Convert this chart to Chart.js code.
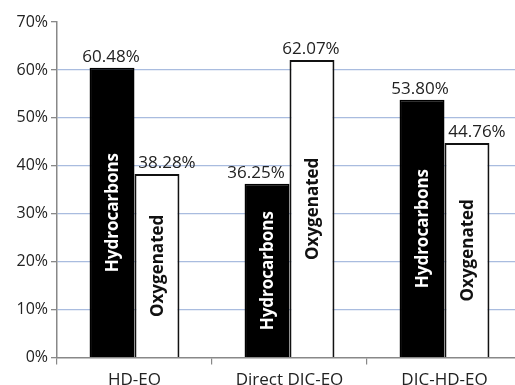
<!DOCTYPE html>
<html>
<head>
<meta charset="utf-8">
<script src="https://cdn.jsdelivr.net/npm/chart.js@4/dist/chart.umd.min.js"></script>
<style>
  html, body { margin: 0; padding: 0; background: #fff; overflow: hidden; }
  #wrap { width: 523px; height: 395px; }
</style>
</head>
<body>
<div id="wrap"><canvas id="c" width="523" height="395"></canvas></div>
<script>
// Essential oil composition by extraction method
const categories = ['HD-EO', 'Direct DIC-EO', 'DIC-HD-EO'];
const hydrocarbons = [60.48, 36.25, 53.80];
const oxygenated = [38.28, 62.07, 44.76];
const yTickValues = [0, 10, 20, 30, 40, 50, 60, 70];

// horizontal nudges for the value labels so neighbours don't collide
const labelShiftHydro = [-1, -11, -2];
const labelShiftOxy = [10, -1, 10];

const FONT = '"Open Sans", "DejaVu Sans", sans-serif';

const barLabels = {
  id: 'barLabels',
  afterDatasetsDraw(chart) {
    const ctx = chart.ctx;
    chart.data.datasets.forEach((ds, di) => {
      const meta = chart.getDatasetMeta(di);
      const shifts = di === 0 ? labelShiftHydro : labelShiftOxy;
      meta.data.forEach((bar, i) => {
        const v = ds.data[i];
        const base = chart.scales.y.getPixelForValue(0);
        // value above the bar
        ctx.save();
        ctx.font = '17px ' + FONT;
        ctx.fillStyle = '#222';
        ctx.textAlign = 'center';
        ctx.textBaseline = 'alphabetic';
        ctx.fillText(v.toFixed(2) + '%', bar.x + shifts[i], bar.y - 6);
        ctx.restore();
        // series name written up the bar
        ctx.save();
        ctx.translate(bar.x, (bar.y + base) / 2);
        ctx.rotate(-Math.PI / 2);
        ctx.font = 'bold 17px ' + FONT;
        ctx.fillStyle = di === 0 ? '#fff' : '#111';
        ctx.textAlign = 'center';
        ctx.textBaseline = 'middle';
        ctx.fillText(ds.label, 0, 1);
        ctx.restore();
      });
    });
  }
};

new Chart(document.getElementById('c'), {
  type: 'bar',
  data: {
    labels: categories,
    datasets: [
      {
        label: 'Hydrocarbons',
        data: hydrocarbons,
        backgroundColor: '#000',
        borderColor: '#000',
        borderWidth: 1.5,
        categoryPercentage: 0.58,
        barPercentage: 1.0
      },
      {
        label: 'Oxygenated',
        data: oxygenated,
        backgroundColor: '#fff',
        borderColor: '#111',
        borderWidth: 2,
        categoryPercentage: 0.58,
        barPercentage: 1.0
      }
    ]
  },
  options: {
    responsive: false,
    animation: false,
    devicePixelRatio: 1,
    layout: { padding: { top: 22, left: 0, right: 1, bottom: 0 } },
    plugins: { legend: { display: false }, tooltip: { enabled: false } },
    scales: {
      x: {
        offset: true,
        grid: {
          offset: true,
          drawOnChartArea: false,
          drawTicks: true,
          tickLength: 7,
          color: '#888',
          lineWidth: 1.2
        },
        border: { color: '#888', width: 1.5 },
        ticks: {
          color: '#222',
          font: { family: FONT, size: 17 },
          padding: 5,
          maxRotation: 0
        }
      },
      y: {
        min: 0,
        max: 70,
        afterBuildTicks(scale) {
          scale.ticks = yTickValues.map(v => ({ value: v }));
        },
        afterFit(scale) { scale.width = 57; },
        grid: {
          color: ctx => (ctx.tick && (ctx.tick.value === 0 || ctx.tick.value === 70)) ? 'rgba(0,0,0,0)' : '#a9bcdf',
          tickColor: '#888',
          tickLength: 6,
          lineWidth: 1.3
        },
        border: { color: '#888', width: 1.5 },
        ticks: {
          color: '#222',
          font: { family: FONT, size: 16 },
          padding: 3,
          callback: v => v + '%'
        }
      }
    }
  },
  plugins: [barLabels]
});
</script>
</body>
</html>
